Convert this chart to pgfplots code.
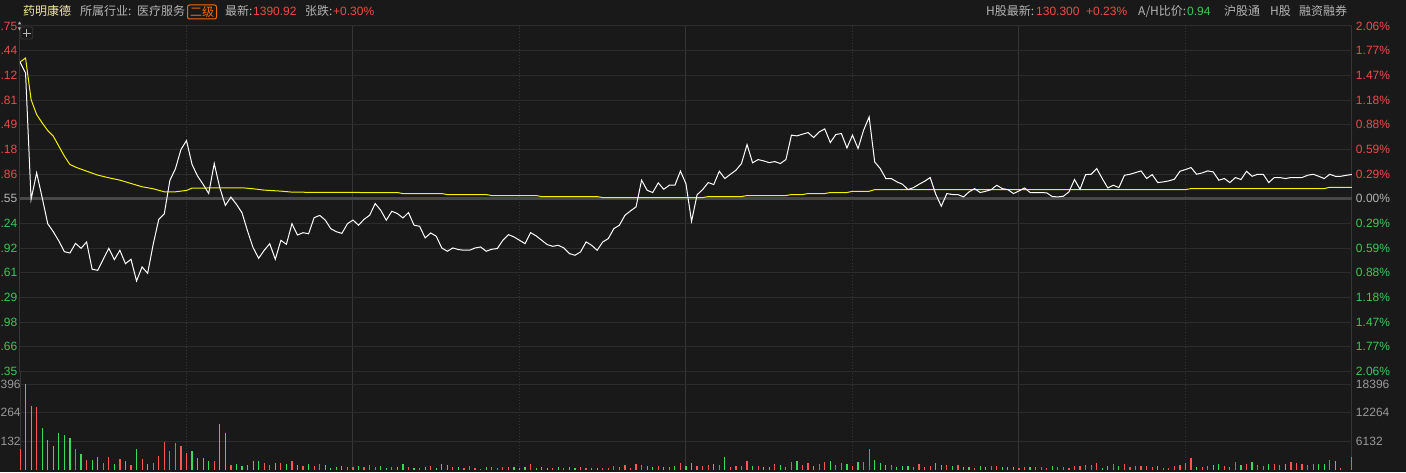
\documentclass[border=0pt]{standalone}
\usepackage{pgfplots}
\usepackage{pgfplotstable}
\pgfplotsset{compat=1.18}
\usepackage{fontspec}
\setmainfont{Liberation Sans}
\newfontfamily\cjk{Noto Sans CJK SC}

\definecolor{bg}{HTML}{191919}
\definecolor{gridc}{HTML}{2C2C2C}
\definecolor{vgrid}{HTML}{363636}
\definecolor{zeroc}{HTML}{474747}
\definecolor{upred}{HTML}{FF5656}
\definecolor{dngreen}{HTML}{3AD85C}
\definecolor{txtred}{HTML}{EE4A4A}
\definecolor{txtgreen}{HTML}{3CC85A}
\definecolor{txtgray}{HTML}{B4B4B4}
\definecolor{lblgray}{HTML}{9A9A9A}
\definecolor{avgyellow}{HTML}{F2F200}
\definecolor{namey}{HTML}{F2E9A0}
\definecolor{orangebox}{HTML}{F26A10}

\newcommand{\R}[1]{\textcolor{txtred}{#1}}
\newcommand{\G}[1]{\textcolor{txtgreen}{#1}}
\newcommand{\N}[1]{\textcolor{txtgray}{#1}}
\newcommand{\V}[1]{\textcolor{lblgray}{#1}}

% minute (0 = 9:30, 240 = 15:00), change vs previous close in %
\pgfplotstableread{
m p
0 1.630
1 1.500
2 -0.008
3 0.309
4 0.012
5 -0.298
6 -0.393
7 -0.504
8 -0.631
9 -0.647
10 -0.532
11 -0.591
12 -0.516
13 -0.841
14 -0.853
15 -0.722
16 -0.591
17 -0.726
18 -0.615
19 -0.774
20 -0.722
21 -0.980
22 -0.813
23 -0.889
24 -0.543
25 -0.246
26 -0.179
27 0.218
28 0.357
29 0.587
30 0.694
31 0.409
32 0.270
33 0.171
34 0.063
35 0.420
36 0.131
37 -0.079
38 0.020
39 -0.067
40 -0.167
41 -0.385
42 -0.583
43 -0.710
44 -0.615
45 -0.536
46 -0.722
47 -0.496
48 -0.543
49 -0.298
50 -0.432
51 -0.405
52 -0.417
53 -0.226
54 -0.198
55 -0.254
56 -0.357
57 -0.393
58 -0.413
59 -0.298
60 -0.254
61 -0.316
62 -0.245
63 -0.197
64 -0.058
65 -0.137
66 -0.256
67 -0.149
68 -0.177
69 -0.229
70 -0.165
71 -0.316
72 -0.328
73 -0.467
74 -0.408
75 -0.447
76 -0.587
77 -0.626
78 -0.587
79 -0.606
80 -0.614
81 -0.614
82 -0.587
83 -0.575
84 -0.626
85 -0.602
86 -0.594
87 -0.495
88 -0.428
89 -0.455
90 -0.495
91 -0.535
92 -0.404
93 -0.443
94 -0.495
95 -0.547
96 -0.567
97 -0.555
98 -0.587
99 -0.654
100 -0.674
101 -0.634
102 -0.515
103 -0.555
104 -0.614
105 -0.515
106 -0.475
107 -0.356
108 -0.316
109 -0.197
110 -0.145
111 -0.097
112 0.221
113 0.101
114 0.074
115 0.189
116 0.113
117 0.161
118 0.161
119 0.330
120 0.177
121 -0.270
122 0.048
123 0.109
124 0.193
125 0.169
126 0.328
127 0.241
128 0.292
129 0.340
130 0.420
131 0.646
132 0.428
133 0.467
134 0.451
135 0.431
136 0.443
137 0.420
138 0.467
139 0.758
140 0.750
141 0.770
142 0.789
143 0.730
144 0.797
145 0.833
146 0.670
147 0.766
148 0.778
149 0.606
150 0.758
151 0.599
152 0.817
153 0.976
154 0.439
155 0.360
156 0.241
157 0.241
158 0.201
159 0.173
160 0.109
161 0.133
162 0.173
163 0.209
164 0.253
165 0.054
166 -0.089
167 0.062
168 0.050
169 0.050
170 0.022
171 0.082
172 0.121
173 0.074
174 0.089
175 0.109
176 0.161
177 0.121
178 0.109
179 0.062
180 0.093
181 0.129
182 0.074
183 0.074
184 0.074
185 0.070
186 0.026
187 0.022
188 0.030
189 0.082
190 0.229
191 0.113
192 0.288
193 0.292
194 0.360
195 0.241
196 0.129
197 0.161
198 0.133
199 0.280
200 0.292
201 0.312
202 0.332
203 0.241
204 0.288
205 0.193
206 0.201
207 0.213
208 0.233
209 0.328
210 0.348
211 0.372
212 0.292
213 0.308
214 0.332
215 0.320
216 0.221
217 0.241
218 0.193
219 0.253
220 0.229
221 0.328
222 0.268
223 0.292
224 0.292
225 0.193
226 0.253
227 0.253
228 0.241
229 0.253
230 0.253
231 0.253
232 0.280
233 0.292
234 0.268
235 0.241
236 0.292
237 0.268
238 0.268
239 0.280
240 0.290
}\pricedata

% average price line, same units
\pgfplotstableread{
m p
0 1.630
1 1.678
2 1.182
3 1.004
4 0.904
5 0.813
6 0.746
7 0.627
8 0.508
9 0.409
10 0.377
12 0.329
14 0.282
16 0.250
18 0.222
20 0.182
22 0.143
24 0.119
26 0.083
28 0.083
30 0.099
31 0.127
40 0.131
42 0.119
44 0.103
47 0.091
49 0.079
55 0.075
68 0.074
69 0.062
76 0.062
77 0.050
84 0.050
85 0.038
93 0.038
94 0.026
104 0.026
105 0.014
123 0.014
124 0.026
130 0.026
131 0.038
138 0.038
139 0.050
141 0.050
142 0.062
145 0.062
146 0.074
149 0.074
150 0.089
153 0.089
154 0.109
210 0.109
211 0.121
235 0.121
236 0.137
240 0.137
}\avgdata

% volume per minute: up = red bar, dn = green bar
\pgfplotstableread{
m up dn
0 4344 0
1 0 18396
2 0 13684
3 13466 0
4 0 8978
5 0 6299
6 0 4996
7 0 7819
8 0 7385
9 0 6733
10 4344 0
11 0 3258
12 1955 0
13 0 1955
14 0 2606
15 1303 0
16 2606 0
17 0 1086
18 2172 0
19 0 1738
20 869 0
21 0 4344
22 2172 0
23 0 1086
24 1303 0
25 2824 0
26 5864 0
27 3910 0
28 5647 0
29 4996 0
30 3475 0
31 0 3910
32 0 2389
33 0 2389
34 0 1738
35 1738 0
36 0 9774
37 0 7819
38 869 0
39 0 1086
40 0 652
41 0 869
42 0 1738
43 0 1738
44 1303 0
45 869 0
46 0 1303
47 1303 0
48 0 1086
49 1738 0
50 0 869
51 652 0
52 0 1086
53 652 0
54 1086 0
55 0 869
56 0 217
57 0 434
58 0 652
59 434 0
60 434 0
61 0 652
62 434 0
63 869 0
64 434 0
65 0 652
66 0 217
67 434 0
68 0 434
69 0 1086
70 434 0
71 0 217
72 217 0
73 0 434
74 652 0
75 0 217
76 0 1086
77 0 869
78 434 0
79 0 434
80 217 0
81 652 0
82 217 0
83 145 0
84 0 434
85 434 0
86 217 0
87 434 0
88 434 0
89 0 434
90 0 217
91 0 434
92 1086 0
93 0 217
94 0 434
95 0 217
96 217 0
97 0 434
98 217 0
99 0 434
100 0 217
101 434 0
102 217 0
103 0 217
104 0 217
105 217 0
106 217 0
107 652 0
108 434 0
109 869 0
110 217 0
111 1086 0
112 869 0
113 0 652
114 0 434
115 652 0
116 0 434
117 434 0
118 0 652
119 1303 0
120 0 652
121 0 1303
122 652 0
123 652 0
124 869 0
125 0 1086
126 869 0
127 0 2606
128 434 0
129 652 0
130 652 0
131 1738 0
132 0 652
133 652 0
134 0 434
135 0 434
136 1086 0
137 0 869
138 434 0
139 1520 0
140 0 1738
141 869 0
142 1303 0
143 0 652
144 1086 0
145 1520 0
146 0 1738
147 869 0
148 1303 0
149 0 1086
150 652 0
151 0 1520
152 1520 0
153 4344 0
154 0 1955
155 0 1303
156 0 869
157 869 0
158 0 434
159 0 652
160 0 652
161 434 0
162 1086 0
163 434 0
164 652 0
165 0 1303
166 0 869
167 869 0
168 0 652
169 869 0
170 0 434
171 0 434
172 217 0
173 0 652
174 0 434
175 652 0
176 652 0
177 0 434
178 0 434
179 0 434
180 217 0
181 434 0
182 0 434
183 434 0
184 434 0
185 217 0
186 0 652
187 434 0
188 434 0
189 217 0
190 652 0
191 652 0
192 869 0
193 869 0
194 1303 0
195 0 217
196 0 652
197 1086 0
198 0 652
199 1086 0
200 434 0
201 652 0
202 652 0
203 652 0
204 434 0
205 0 652
206 217 0
207 217 0
208 652 0
209 869 0
210 1303 0
211 2389 0
212 0 434
213 434 0
214 652 0
215 0 869
216 0 1086
217 652 0
218 434 0
219 1520 0
220 0 869
221 1086 0
222 0 1520
223 869 0
224 652 0
225 0 1086
226 1086 0
227 869 0
228 0 1086
229 1520 0
230 1303 0
231 1086 0
232 869 0
233 1086 0
234 0 1086
235 0 1086
236 1955 0
237 0 1738
238 217 0
239 0 0
240 2679 0
}\voldata

\pgfplotsset{
  panel/.style={
    anchor=south west, scale only axis, width=1332pt,
    xmin=0, xmax=240,
    axis line style={draw=none},
    major tick length=0pt, minor tick length=0pt,
    scaled y ticks=false,
    tick label style={font=\fontsize{12}{14}\selectfont},
  },
  timegrid/.style={
    xtick={0,60,120,180,240}, xticklabels={},
    minor xtick={30,90,150,210},
    xmajorgrids, xminorgrids, ymajorgrids,
    major x grid style={vgrid, line width=1pt},
    minor x grid style={vgrid, line width=1pt, dash pattern=on 1pt off 2pt},
    major y grid style={gridc, line width=1pt},
  },
  rightlabels/.style={axis x line=none, axis y line*=right,
    yticklabel style={anchor=west, inner sep=0pt, xshift=3.8pt}},
}

\begin{document}
\begin{tikzpicture}[x=1pt, y=1pt, font=\fontsize{12}{14}\selectfont]
\path[use as bounding box] (0,0) rectangle (1406,472);
\fill[bg] (0,0) rectangle (1406,472);
\begin{scope}
\clip (0,0) rectangle (1406,472);

% price panel (left labels show only the decimals, as the terminal does)
\begin{axis}[panel, timegrid,
  at={(20pt,100.5pt)}, height=345.5pt,
  ymin=-2.06, ymax=2.06,
  ytick={-2.06,-1.76571,-1.47143,-1.17714,-0.88286,-0.58857,-0.29429,0,0.29429,0.58857,0.88286,1.17714,1.47143,1.76571,2.06},
  yticklabels={\G{.35},\G{.66},\G{.98},\G{.29},\G{.61},\G{.92},\G{.24},\N{.55},\R{.86},\R{.18},\R{.49},\R{.81},\R{.12},\R{.44},\R{.75}},
  yticklabel style={anchor=east, inner sep=0pt, xshift=-2.6pt},
]
\addplot[zeroc, line width=2.5pt] coordinates {(0,0) (240,0)};
\addplot[avgyellow, line width=1pt] table[x=m, y=p] {\avgdata};
\addplot[white, line width=1pt] table[x=m, y=p] {\pricedata};
\end{axis}

\begin{axis}[panel, rightlabels,
  at={(20pt,100.5pt)}, height=345.5pt,
  ymin=-2.06, ymax=2.06,
  ytick={-2.06,-1.76571,-1.47143,-1.17714,-0.88286,-0.58857,-0.29429,0,0.29429,0.58857,0.88286,1.17714,1.47143,1.76571,2.06},
  yticklabels={\G{2.06\%},\G{1.77\%},\G{1.47\%},\G{1.18\%},\G{0.88\%},\G{0.59\%},\G{0.29\%},\N{0.00\%},\R{0.29\%},\R{0.59\%},\R{0.88\%},\R{1.18\%},\R{1.47\%},\R{1.77\%},\R{2.06\%}},
]
\addplot[draw=none] coordinates {(0,0)};
\end{axis}

% volume panel
\begin{axis}[panel, timegrid,
  at={(20pt,2.5pt)}, height=97.5pt,
  ymin=0, ymax=21101,
  ytick={6132,12264,18396},
  yticklabels={\V{132},\V{264},\V{396}},
  yticklabel style={anchor=west, inner sep=0pt, xshift=-19.6pt},
]
\addplot[upred, ycomb, line width=1.2pt] table[x=m, y=up] {\voldata};
\addplot[dngreen, ycomb, line width=1.2pt] table[x=m, y=dn] {\voldata};
\end{axis}

\begin{axis}[panel, rightlabels,
  at={(20pt,2.5pt)}, height=97.5pt,
  ymin=0, ymax=21101,
  ytick={6132,12264,18396},
  yticklabels={\V{6132},\V{12264},\V{18396}},
]
\addplot[draw=none] coordinates {(0,0)};
\end{axis}

% small controls at the top left
\fill[txtgray] (17.8,447.5) -- (21.4,447.5) -- (19.6,450.5) -- cycle;
\fill[txtgray] (17.8,444.5) -- (21.4,444.5) -- (19.6,441.5) -- cycle;
\draw[vgrid, line width=0.8pt, rounded corners=1.5pt, fill=bg] (20.8,433) rectangle (32.8,445);
\draw[txtgray, line width=0.9pt] (22.8,439) -- (30.8,439) (26.8,435) -- (26.8,443);

% header line
\node[anchor=base west, inner sep=0pt, text=namey] at (23,456) {\cjk 药明康德};
\node[anchor=base west, inner sep=0pt, text=txtgray] at (80,456) {\cjk 所属行业:};
\node[anchor=base west, inner sep=0pt, text=txtgray] at (137,456) {\cjk 医疗服务};
\draw[orangebox, line width=1pt, rounded corners=2pt] (187.5,453) rectangle (216.5,467);
\node[inner sep=0pt, text=orangebox] at (202,460) {\cjk 二级};
\node[anchor=base west, inner sep=0pt, text=txtgray] at (225,456) {\cjk 最新:};
\node[anchor=base west, inner sep=0pt, text=txtred] at (253,456) {1390.92};
\node[anchor=base west, inner sep=0pt, text=txtgray] at (305,456) {\cjk 张跌:};
\node[anchor=base west, inner sep=0pt, text=txtred] at (333,456) {+0.30\%};

\node[anchor=base west, inner sep=0pt, text=txtgray] at (986,456) {\cjk H股最新:};
\node[anchor=base west, inner sep=0pt, text=txtred] at (1036,456) {130.300};
\node[anchor=base west, inner sep=0pt, text=txtred] at (1086,456) {+0.23\%};
\node[anchor=base west, inner sep=0pt, text=txtgray] at (1138,456) {\cjk A/H比价:};
\node[anchor=base west, inner sep=0pt, text=txtgreen] at (1187,456) {0.94};
\node[anchor=base west, inner sep=0pt, text=txtgray] at (1224,456) {\cjk 沪股通};
\node[anchor=base west, inner sep=0pt, text=txtgray] at (1270,456) {\cjk H股};
\node[anchor=base west, inner sep=0pt, text=txtgray] at (1299,456) {\cjk 融资融券};
\end{scope}
\end{tikzpicture}
\end{document}
